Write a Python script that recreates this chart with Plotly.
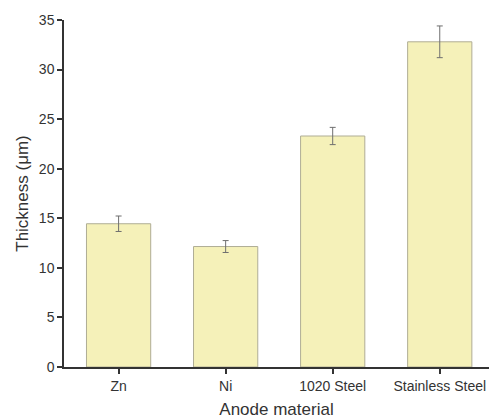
import plotly.graph_objects as go

categories = ["Zn", "Ni", "1020 Steel", "Stainless Steel"]
thickness = [14.45, 12.15, 23.3, 32.8]
errors = [0.78, 0.6, 0.87, 1.6]
y_ticks = [0, 5, 10, 15, 20, 25, 30, 35]

fig = go.Figure(go.Bar(
    x=list(range(len(categories))),
    y=thickness,
    width=0.6,
    marker=dict(color="#F5F1B9", line=dict(color="#AFAD95", width=1)),
    error_y=dict(type="data", array=errors, visible=True, color="#6f6f6f", thickness=1, width=3),
))

fig.update_layout(
    width=489, height=419,
    margin=dict(l=64, r=0, t=20, b=52),
    plot_bgcolor="white", paper_bgcolor="white",
    font=dict(family="Liberation Sans, Arial, sans-serif", color="#333333", size=14),
    showlegend=False,
)
fig.update_xaxes(
    range=[-0.51, 3.46],
    tickmode="array", tickvals=list(range(len(categories))), ticktext=categories,
    showline=True, linecolor="#333333", linewidth=1.5,
    ticks="outside", ticklen=5, tickcolor="#333333", tickwidth=1.5,
    showgrid=False, zeroline=False,
    title=dict(text="Anode material", font=dict(size=17), standoff=12),
    tickfont=dict(size=14),
    automargin=False,
)
fig.update_yaxes(
    range=[0, 35],
    tickmode="array", tickvals=y_ticks,
    showline=True, linecolor="#333333", linewidth=1.5,
    ticks="outside", ticklen=5, tickcolor="#333333", tickwidth=1.5,
    showgrid=False, zeroline=False,
    title=dict(text="Thickness (μm)", font=dict(size=17), standoff=6),
    tickfont=dict(size=14),
    automargin=False,
)

fig.write_html(
    "out.html",
    config={"displayModeBar": False},
    post_script="document.body.style.margin='0';document.body.style.overflow='hidden';",
)
